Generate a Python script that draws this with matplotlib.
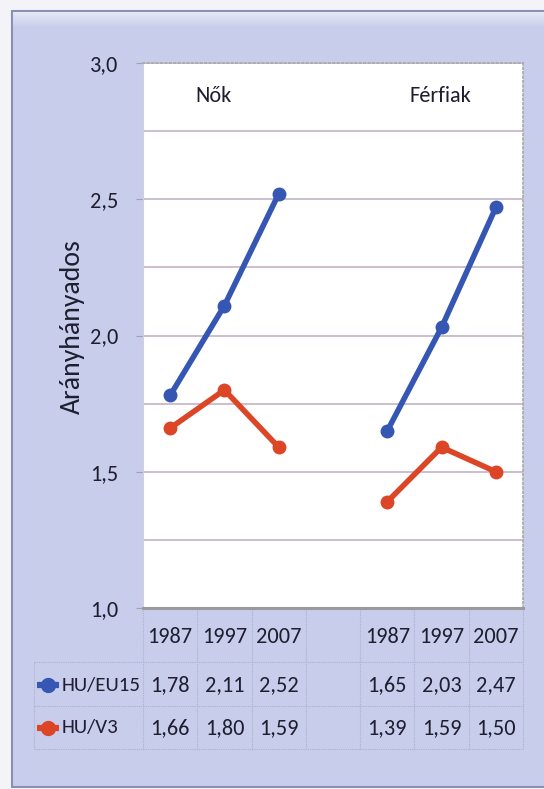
import numpy as np
import matplotlib
matplotlib.use("Agg")
import matplotlib.pyplot as plt
from matplotlib.patches import Rectangle
from matplotlib.ticker import MultipleLocator

# data
years = ["1987", "1997", "2007"]
groups = ["Nők", "Férfiak"]
series = ["HU/EU15", "HU/V3"]
eu15_nok = [1.78, 2.11, 2.52]
eu15_ferfi = [1.65, 2.03, 2.47]
v3_nok = [1.66, 1.80, 1.59]
v3_ferfi = [1.39, 1.59, 1.50]

BLUE = "#3556b2"
RED = "#dc4627"
BG = "#c8cdec"
TXT = "#1e1e30"
plt.rcParams["font.family"] = ["Carlito", "DejaVu Sans"]

W, H = 544, 789
fig = plt.figure(figsize=(W / 100, H / 100), dpi=100)
fig.patch.set_facecolor("#f4f4f8")

# background frame, drawn in pixel coordinates
bg = fig.add_axes([0, 0, 1, 1], zorder=0)
bg.add_patch(Rectangle((12, 11), W, 776, facecolor=BG, edgecolor="#8a90b4", lw=1.5))
grad = np.linspace(0, 1, 20)[:, None]
bg.imshow(grad, extent=(13, W, 28, 12), aspect="auto", zorder=2,
          cmap=matplotlib.colors.LinearSegmentedColormap.from_list("hl", ["#e6e8f6", BG]))
bg.set_xlim(0, W); bg.set_ylim(H, 0); bg.axis("off")

# plot area: 143..523 px wide, 63..608 px high
L, R, T, B = 143, 523, 63, 608
ax = fig.add_axes([L / W, 1 - B / H, (R - L) / W, (B - T) / H], zorder=1)
ax.set_facecolor("white")
ax.set_xlim(-0.5, 6.5)
ax.set_ylim(1.0, 3.0)

xn = [0, 1, 2]
xf = [4, 5, 6]
for xs, vals, c in [(xn, eu15_nok, BLUE), (xf, eu15_ferfi, BLUE),
                    (xn, v3_nok, RED), (xf, v3_ferfi, RED)]:
    ax.plot(xs, vals, color=c, lw=4.0, marker="o", ms=9, solid_capstyle="round", zorder=3)

ax.text(0.8, 2.88, groups[0], ha="center", va="center", fontsize=16, color=TXT)
ax.text(4.97, 2.88, groups[1], ha="center", va="center", fontsize=16, color=TXT)

ax.yaxis.set_major_locator(MultipleLocator(0.5))
ax.yaxis.set_minor_locator(MultipleLocator(0.25))
ax.set_yticklabels([f"{v:.1f}".replace(".", ",") for v in ax.get_yticks()])
ax.grid(True, which="both", axis="y", color="#c9b9c9", lw=1.3)
ax.set_axisbelow(True)
ax.tick_params(axis="y", which="major", length=5, color="#a0a0b8", pad=13, labelsize=16, labelcolor=TXT)
ax.tick_params(axis="y", which="minor", length=0)
ax.set_xticks([])
for s in ["top", "right"]:
    ax.spines[s].set_color("#a8a8a8"); ax.spines[s].set_linestyle(":"); ax.spines[s].set_linewidth(1.2)
ax.spines["left"].set_color("#d0d0e0"); ax.spines["left"].set_linewidth(0.8)
ax.spines["bottom"].set_color("#9a9a9a"); ax.spines["bottom"].set_linewidth(2.2)
ax.set_ylabel("Arányhányados", fontsize=20, color=TXT)
ax.yaxis.set_label_coords((85 - L) / (R - L), (B - 327) / (B - T))

# data table under the plot (x in data units, y in axes fraction)
tr = ax.get_xaxis_transform()
ph = B - T
def fy(py):
    return (B - py) / ph

px_per_col = (R - L) / 7
leg_left = -0.5 - (L - 34) / px_per_col
gc = "#aeb0d2"
dot = (0, (1, 1))
for py in [662, 706, 749]:
    ax.plot([leg_left, 6.5], [fy(py)] * 2, transform=tr, clip_on=False, color=gc, lw=0.8, ls=dot)
for xe in np.arange(-0.5, 7.0, 1.0):
    ax.plot([xe, xe], [fy(B), fy(749)], transform=tr, clip_on=False, color=gc, lw=0.8, ls=dot)
ax.plot([leg_left, leg_left], [fy(662), fy(749)], transform=tr, clip_on=False, color=gc, lw=0.8, ls=dot)

cols = xn + xf
for x, yr in zip(cols, years + years):
    ax.text(x, fy(637), yr, transform=tr, ha="center", va="center", fontsize=16, color=TXT, clip_on=False)

fmt = lambda v: f"{v:.2f}".replace(".", ",")
for name, nok, ferfi, c, py in [(series[0], eu15_nok, eu15_ferfi, BLUE, 685),
                                (series[1], v3_nok, v3_ferfi, RED, 728)]:
    for x, v in zip(cols, nok + ferfi):
        ax.text(x, fy(py), fmt(v), transform=tr, ha="center", va="center", fontsize=16, color=TXT, clip_on=False)
    xm = -0.5 - (L - 48) / px_per_col
    ax.plot([xm - 0.2, xm + 0.2], [fy(py)] * 2, transform=tr, clip_on=False, color=c, lw=4.5,
            solid_capstyle="butt")
    ax.plot([xm], [fy(py)], transform=tr, clip_on=False, color=c, marker="o", ms=10)
    ax.text(-0.5 - (L - 62) / px_per_col, fy(py), name, transform=tr, ha="left", va="center",
            fontsize=15, color=TXT, clip_on=False)

fig.savefig("out.png", dpi=100, facecolor=fig.get_facecolor())
